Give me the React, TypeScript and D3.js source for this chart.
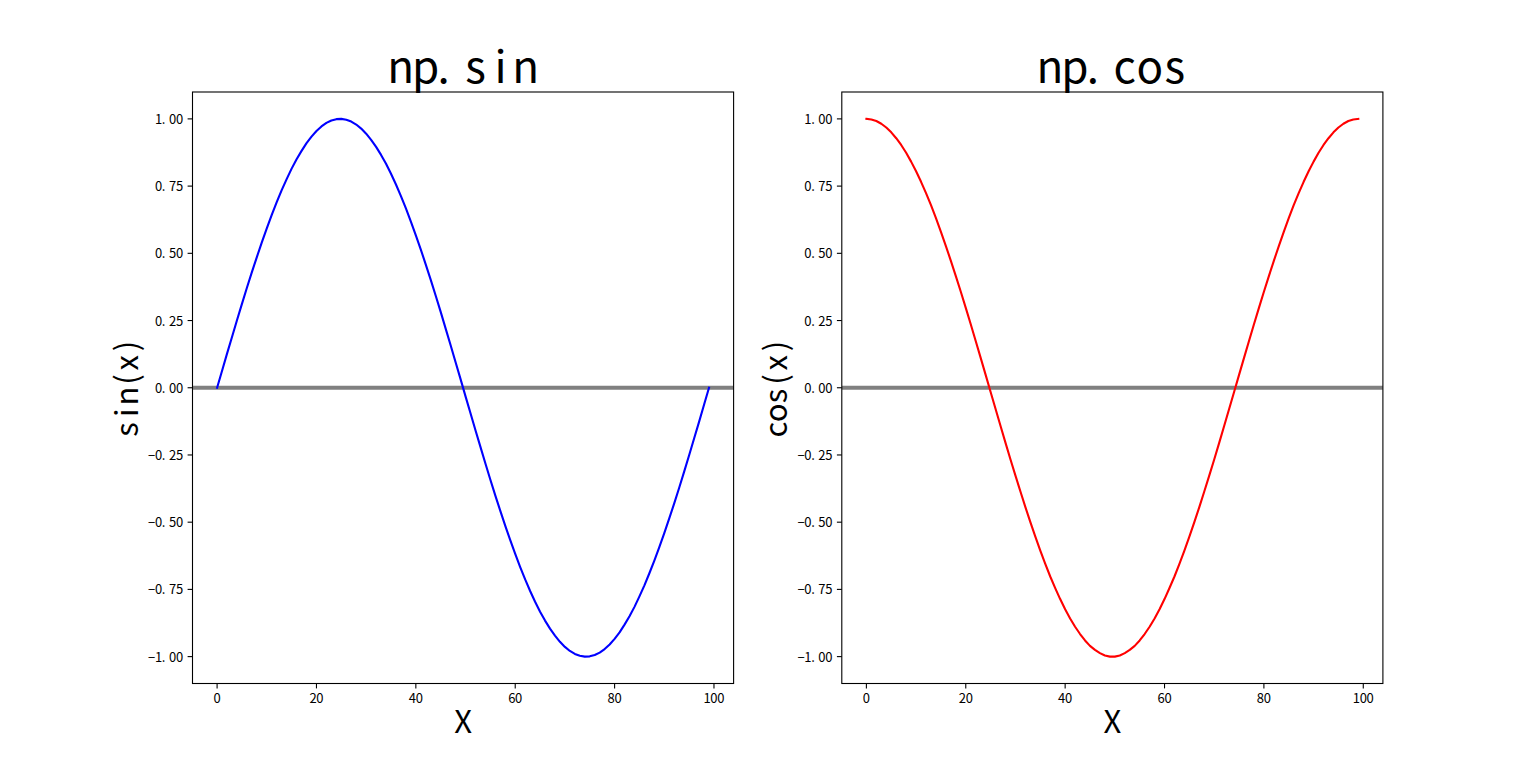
import React from 'react';
import * as d3 from 'd3';

const SIN_VALUES = [
  0, 0.063, 0.127, 0.189, 0.251, 0.312, 0.372, 0.43, 0.486, 0.541, 0.593, 0.643, 0.69, 0.735, 0.776, 0.815, 0.85, 0.881, 0.91, 0.934,
  0.955, 0.972, 0.985, 0.994, 0.999, 1.0, 0.997, 0.99, 0.979, 0.964, 0.945, 0.922, 0.896, 0.866, 0.833, 0.796, 0.756, 0.713, 0.667, 0.618,
  0.567, 0.514, 0.458, 0.401, 0.342, 0.282, 0.22, 0.158, 0.095, 0.032,
  -0.032, -0.095, -0.158, -0.22, -0.282, -0.342, -0.401, -0.458, -0.514, -0.567, -0.618, -0.667, -0.713, -0.756, -0.796, -0.833, -0.866, -0.896, -0.922, -0.945,
  -0.964, -0.979, -0.99, -0.997, -1.0, -0.999, -0.994, -0.985, -0.972, -0.955, -0.934, -0.91, -0.881, -0.85, -0.815, -0.776, -0.735, -0.69, -0.643, -0.593,
  -0.541, -0.486, -0.43, -0.372, -0.312, -0.251, -0.189, -0.127, -0.063, 0,
];

const COS_VALUES = [
  1, 0.998, 0.992, 0.982, 0.968, 0.95, 0.928, 0.903, 0.874, 0.841, 0.805, 0.766, 0.724, 0.679, 0.631, 0.58, 0.527, 0.472, 0.415, 0.357,
  0.297, 0.236, 0.174, 0.111, 0.048, -0.016, -0.079, -0.142, -0.205, -0.267, -0.327, -0.386, -0.444, -0.5, -0.554, -0.606, -0.655, -0.702, -0.745, -0.786,
  -0.824, -0.858, -0.889, -0.916, -0.94, -0.96, -0.975, -0.987, -0.996, -1.0,
  -1.0, -0.996, -0.987, -0.975, -0.96, -0.94, -0.916, -0.889, -0.858, -0.824, -0.786, -0.745, -0.702, -0.655, -0.606, -0.554, -0.5, -0.444, -0.386, -0.327,
  -0.267, -0.205, -0.142, -0.079, -0.016, 0.048, 0.111, 0.174, 0.236, 0.297, 0.357, 0.415, 0.472, 0.527, 0.58, 0.631, 0.679, 0.724, 0.766, 0.805,
  0.841, 0.874, 0.903, 0.928, 0.95, 0.968, 0.982, 0.992, 0.998, 1,
];

const X_TICKS = [0, 20, 40, 60, 80, 100];
const Y_TICKS = [-1, -0.75, -0.5, -0.25, 0, 0.25, 0.5, 0.75, 1];

const TITLES = ['np.sin', 'np.cos'];
const Y_LABELS = ['sin(x)', 'cos(x)'];
const X_LABEL = 'X';
const COLORS = ['#0000ff', '#ff0000'];
const SERIES = [SIN_VALUES, COS_VALUES];

const W = 1536;
const H = 767;
const AX_TOP = 92;
const AX_BOTTOM = 683.5;
const AX_W = 541.1;
const AX_LEFTS = [192.5, 841.8];
const FONT = "'Noto Sans CJK SC', 'Liberation Sans', sans-serif";

function MonoText({ x, y, text, size, cell, anchor = 'middle', fill = '#000', weight = 400 }: any) {
  const chars = Array.from(text as string);
  const c0 = cell ?? size * 0.5;
  const total = chars.length * c0;
  const start = anchor === 'middle' ? x - total / 2 : anchor === 'end' ? x - total : x;
  return (
    <text y={y} fontSize={size} fontFamily={FONT} fill={fill} fontWeight={weight} textAnchor="middle">
      {chars.map((c, i) => (
        <tspan key={i} x={c === '.' ? start + i * c0 + c0 * 0.22 : start + (i + 0.5) * c0}>
          {c}
        </tspan>
      ))}
    </text>
  );
}

function fmt(v: number) {
  const s = d3.format('.2f')(Math.abs(v));
  return v < 0 ? '\u2212' + s : s;
}

function Panel({ idx }: { idx: number }) {
  const left = AX_LEFTS[idx];
  const right = left + AX_W;
  const values = SERIES[idx];
  const n = values.length;
  const x = d3.scaleLinear().domain([0 - 0.05 * (n - 1), (n - 1) * 1.05]).range([left, right]);
  const y = d3.scaleLinear().domain([-1.1, 1.1]).range([AX_BOTTOM, AX_TOP]);
  const line = d3
    .line<number>()
    .x((_, i) => x(i))
    .y((d) => y(d));
  const cx = (left + right) / 2;
  const clipId = `clip${idx}`;
  return (
    <g>
      <defs>
        <clipPath id={clipId}>
          <rect x={left} y={AX_TOP} width={AX_W} height={AX_BOTTOM - AX_TOP} />
        </clipPath>
      </defs>
      <g clipPath={`url(#${clipId})`}>
        <line x1={left} x2={right} y1={y(0)} y2={y(0)} stroke="#808080" strokeWidth={4.2} />
        <path d={line(values) || ''} fill="none" stroke={COLORS[idx]} strokeWidth={2.1} strokeLinejoin="round" strokeLinecap="square" />
      </g>
      <rect x={left} y={AX_TOP} width={AX_W} height={AX_BOTTOM - AX_TOP} fill="none" stroke="#000" strokeWidth={1.1} />
      {X_TICKS.map((t) => (
        <g key={'x' + t}>
          <line x1={x(t)} x2={x(t)} y1={AX_BOTTOM} y2={AX_BOTTOM + 4.9} stroke="#000" strokeWidth={1.1} />
          <MonoText x={x(t)} y={AX_BOTTOM + 19.5} text={String(t)} size={13} cell={6.95} />
        </g>
      ))}
      {Y_TICKS.map((t) => (
        <g key={'y' + t}>
          <line x1={left - 4.9} x2={left} y1={y(t)} y2={y(t)} stroke="#000" strokeWidth={1.1} />
          <MonoText x={left - 9.5} y={y(t) + 5} text={fmt(t)} size={13} cell={6.95} anchor="end" />
        </g>
      ))}
      <MonoText x={cx} y={83} text={TITLES[idx]} size={44} cell={25} />
      <MonoText x={cx} y={733} text={X_LABEL} size={31} cell={16.7} />
      <g transform={`translate(${left - 55},${(AX_TOP + AX_BOTTOM) / 2})rotate(-90)`}>
        <MonoText x={0} y={0} text={Y_LABELS[idx]} size={31} cell={16.7} />
      </g>
    </g>
  );
}

export default function App() {
  return (
    <svg width={W} height={H} style={{ position: 'absolute', left: 0, top: 0, background: '#fff' }}>
      <rect x={0} y={0} width={W} height={H} fill="#fff" />
      <Panel idx={0} />
      <Panel idx={1} />
    </svg>
  );
}
